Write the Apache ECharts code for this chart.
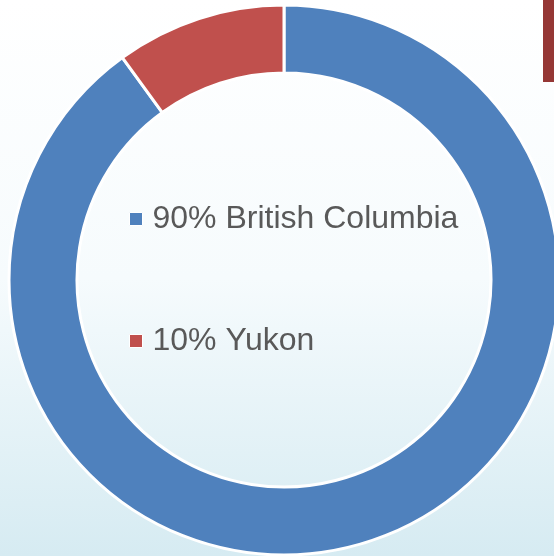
<!DOCTYPE html>
<html>
<head>
<meta charset="utf-8">
<script src="https://cdn.jsdelivr.net/npm/echarts@6/dist/echarts.min.js"></script>
<style>
  html, body { margin: 0; padding: 0; }
  #chart { width: 554px; height: 556px; }
</style>
</head>
<body>
<div id="chart"></div>
<script>
const names = ['British Columbia', 'Yukon'];
const shares = [90, 10];
const colors = ['#4f81bd', '#c0504d'];

const chart = echarts.init(document.getElementById('chart'));

const option = {
  backgroundColor: {
    type: 'linear', x: 0, y: 0, x2: 0, y2: 1,
    colorStops: [
      { offset: 0, color: '#ffffff' },
      { offset: 0.5, color: '#f6fbfd' },
      { offset: 1, color: '#d6ebf2' }
    ]
  },
  color: colors,
  animation: false,
  graphic: [{
    type: 'rect',
    shape: { x: 543, y: 0, width: 11, height: 82 },
    style: { fill: '#953735' }
  }],
  legend: {
    orient: 'vertical',
    left: 124,
    top: 198,
    itemWidth: 13,
    itemHeight: 13,
    itemGap: 90,
    icon: 'rect',
    selectedMode: false,
    itemStyle: { borderColor: '#ffffff', borderWidth: 1 },
    formatter: function (name) {
      const i = names.indexOf(name);
      return shares[i] + '% ' + name;
    },
    textStyle: {
      fontFamily: 'Liberation Sans, Arial, sans-serif',
      fontSize: 32,
      color: '#595959',
      padding: [0, 0, 0, 5]
    }
  },
  series: [{
    type: 'pie',
    center: [284, 280],
    radius: [207, 275],
    startAngle: 90,
    clockwise: true,
    label: { show: false },
    labelLine: { show: false },
    emphasis: { disabled: true },
    itemStyle: { borderColor: '#ffffff', borderWidth: 3 },
    data: names.map(function (n, i) { return { name: n, value: shares[i] }; })
  }]
};

chart.setOption(option);
</script>
</body>
</html>
